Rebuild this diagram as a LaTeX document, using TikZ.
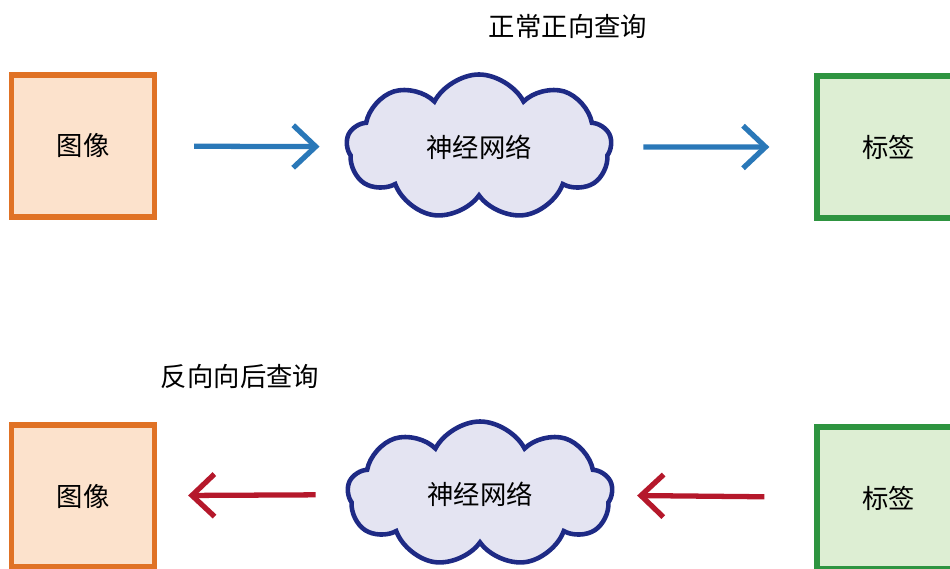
\documentclass[tikz,border=0pt]{standalone}
\usepackage{fontspec}
\setmainfont{Noto Sans CJK SC}
\usepackage{xcolor}
\usepackage{tikz}
\usetikzlibrary{shapes.symbols,arrows.meta,positioning,calc}

\definecolor{imgdraw}{HTML}{E07225}
\definecolor{imgfill}{HTML}{FCE2CC}
\definecolor{labdraw}{HTML}{2E9440}
\definecolor{labfill}{HTML}{DDEED3}
\definecolor{netdraw}{HTML}{1E2A85}
\definecolor{netfill}{HTML}{E4E4F2}
\definecolor{fwdcol}{HTML}{2A78B8}
\definecolor{bwdcol}{HTML}{B5182B}

\begin{document}
\begin{tikzpicture}[font=\fontsize{15pt}{17pt}\selectfont,
    imgbox/.style={draw=imgdraw, fill=imgfill, line width=3pt, minimum width=2.86cm, minimum height=2.84cm},
    labbox/.style={draw=labdraw, fill=labfill, line width=3pt, minimum width=2.86cm, minimum height=2.84cm},
    netcloud/.style={cloud, cloud puffs=9, cloud puff arc=125, aspect=2, draw=netdraw, fill=netfill, line width=2.6pt, minimum width=5.3cm, minimum height=2.9cm},
    fwd/.style={draw=fwdcol, line width=3pt, -{Straight Barb[length=4.5mm, width=8.5mm, line width=3pt]}},
    bwd/.style={draw=bwdcol, line width=3pt, -{Straight Barb[length=4.5mm, width=8.5mm, line width=3pt]}}]
    \useasboundingbox (0,0) rectangle (19,11.38);

    % forward query
    \node (imgtop) [imgbox] at (1.66,8.46) {图像};
    \node (nettop) [netcloud] at (9.58,8.44) {神经网络};
    \node (labtop) [labbox] at (17.77,8.44) {标签};
    \node (fwdtitle) at (11.36,10.86) {正常正向查询};
    \draw[fwd, shorten <=0.74cm, shorten >=0.5cm] (imgtop) -- (nettop);
    \draw[fwd, shorten <=0.6cm, shorten >=0.9cm] (nettop) -- (labtop);

    % backward query
    \node (imgbot) [imgbox] at (1.66,1.46) {图像};
    \node (netbot) [netcloud] at (9.6,1.5) {神经网络};
    \node (labbot) [labbox] at (17.77,1.42) {标签};
    \node (bwdtitle) at (4.8,3.84) {反向向后查询};
    \draw[bwd, shorten <=1.0cm, shorten >=0.46cm] (labbot) -- (netbot);
    \draw[bwd, shorten <=0.6cm, shorten >=0.62cm] (netbot) -- (imgbot);
\end{tikzpicture}
\end{document}
